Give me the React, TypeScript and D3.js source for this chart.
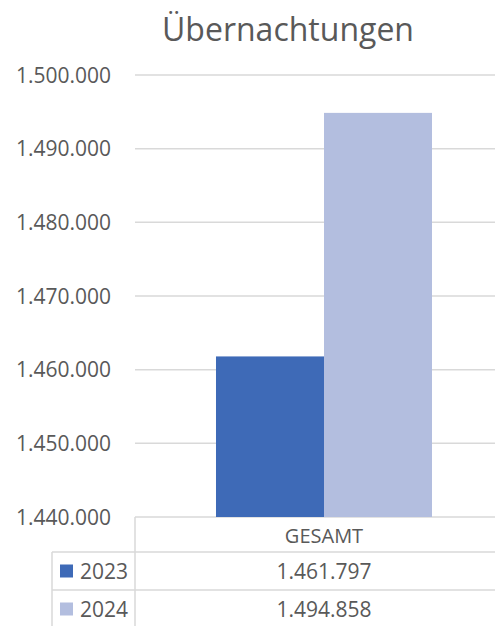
import React from 'react';
import * as d3 from 'd3';

const categories = ['GESAMT'];
const seriesNames = ['2023', '2024'];
const seriesValues = [1461797, 1494858];
const seriesColors = ['#3e6ab7', '#b3bedf'];
const yTicks = [1440000, 1450000, 1460000, 1470000, 1480000, 1490000, 1500000];

const W = 495;
const H = 626;
const FONT = '"Open Sans", sans-serif';
const TEXT = '#595959';
const LINE = '#d9d9d9';

const de = d3.formatLocale({ decimal: ',', thousands: '.', grouping: [3], currency: ['', ' €'] });
const fmt = de.format(',d');

const App: React.FC = () => {
  const plotLeft = 135;
  const plotRight = 513;
  const plotTop = 75;
  const plotBottom = 517;

  const y = d3.scaleLinear().domain([1440000, 1500000]).range([plotBottom, plotTop]);
  const x0 = d3.scaleBand<string>().domain(categories).range([plotLeft, plotRight]).padding(0.2727);
  const x1 = d3.scaleBand<string>().domain(seriesNames).range([0, x0.bandwidth()]).padding(0);

  const headerBottom = 552;
  const rowH = 38;
  const tableLeft = 52;

  return (
    <div style={{ position: 'absolute', left: 0, top: 0 }}>
      <svg width={W} height={H} style={{ display: 'block', background: '#fff' }}>
        <text x={288} y={41} textAnchor="middle" fontFamily={FONT} fontSize={32} fill={TEXT}>
          Übernachtungen
        </text>

        {yTicks.map((t) => (
          <g key={t}>
            <line x1={plotLeft} x2={W} y1={y(t)} y2={y(t)} stroke={LINE} strokeWidth={1.5} />
            <text x={111} y={y(t)} dy="0.36em" textAnchor="end" fontFamily={FONT} fontSize={21} fill={TEXT}>
              {fmt(t)}
            </text>
          </g>
        ))}

        {categories.map((c) =>
          seriesNames.map((s, i) => (
            <rect
              key={c + s}
              x={(x0(c) ?? 0) + (x1(s) ?? 0)}
              y={y(seriesValues[i])}
              width={x1.bandwidth()}
              height={plotBottom - y(seriesValues[i])}
              fill={seriesColors[i]}
            />
          ))
        )}

        {/* data table */}
        <line x1={plotLeft} x2={plotLeft} y1={plotBottom} y2={H} stroke={LINE} strokeWidth={1.5} />
        <line x1={tableLeft} x2={tableLeft} y1={headerBottom} y2={H} stroke={LINE} strokeWidth={1.5} />
        <line x1={tableLeft} x2={W} y1={headerBottom} y2={headerBottom} stroke={LINE} strokeWidth={1.5} />
        {categories.map((c) => (
          <text key={c} x={(x0(c) ?? 0) + x0.bandwidth() / 2} y={(plotBottom + headerBottom) / 2 + 1} dy="0.36em"
            textAnchor="middle" fontFamily={FONT} fontSize={20} fill={TEXT}>
            {c}
          </text>
        ))}
        {seriesNames.map((s, i) => {
          const top = headerBottom + i * rowH;
          const mid = top + rowH / 2;
          return (
            <g key={s}>
              <line x1={tableLeft} x2={W} y1={top + rowH} y2={top + rowH} stroke={LINE} strokeWidth={1.5} />
              <rect x={60} y={mid - 6.5} width={13} height={13} fill={seriesColors[i]} />
              <text x={80} y={mid} dy="0.36em" fontFamily={FONT} fontSize={21} fill={TEXT}>{s}</text>
              {categories.map((c) => (
                <text key={c} x={(x0(c) ?? 0) + x0.bandwidth() / 2} y={mid} dy="0.36em" textAnchor="middle"
                  fontFamily={FONT} fontSize={21} fill={TEXT}>
                  {fmt(seriesValues[i])}
                </text>
              ))}
            </g>
          );
        })}
      </svg>
    </div>
  );
};

export default App;
